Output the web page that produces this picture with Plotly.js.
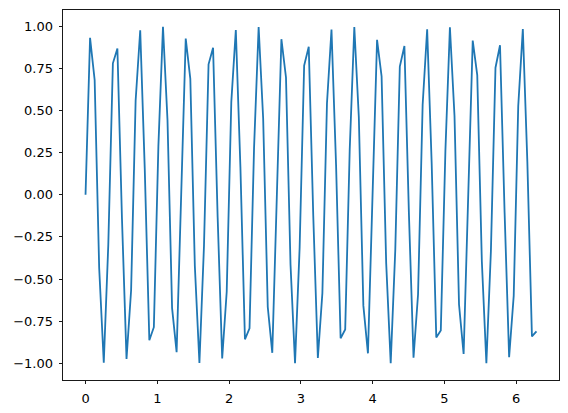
<!DOCTYPE html>
<html>
<head>
<meta charset="utf-8">
<script src="https://cdn.plot.ly/plotly-3.0.1.min.js"></script>
<style>html,body{margin:0;padding:0;background:#fff;}#chart{width:568px;height:413px;}</style>
</head>
<body>
<div id="chart"></div>
<script>
const xValues = [0,0.063,0.127,0.190,0.254,0.317,0.381,0.444,0.508,0.571,
0.635,0.698,0.762,0.825,0.889,0.952,1.015,1.079,1.142,1.206,
1.269,1.333,1.396,1.460,1.523,1.587,1.650,1.714,1.777,1.841,
1.904,1.967,2.031,2.094,2.158,2.221,2.285,2.348,2.412,2.475,
2.539,2.602,2.666,2.729,2.793,2.856,2.919,2.983,3.046,3.110,
3.173,3.237,3.300,3.364,3.427,3.491,3.554,3.618,3.681,3.745,
3.808,3.871,3.935,3.998,4.062,4.125,4.189,4.252,4.316,4.379,
4.443,4.506,4.570,4.633,4.697,4.760,4.823,4.887,4.950,5.014,
5.077,5.141,5.204,5.268,5.331,5.395,5.458,5.522,5.585,5.648,
5.712,5.775,5.839,5.902,5.966,6.029,6.093,6.156,6.220,6.283];
const yValues = [0,0.931,0.681,-0.433,-0.997,-0.297,0.780,0.868,-0.145,-0.974,
-0.567,0.559,0.976,0.155,-0.863,-0.786,0.287,0.997,0.442,-0.673,
-0.934,-0.010,0.927,0.688,-0.423,-0.998,-0.307,0.774,0.873,-0.135,
-0.972,-0.576,0.550,0.978,0.165,-0.858,-0.793,0.278,0.996,0.451,
-0.666,-0.938,-0.020,0.923,0.696,-0.414,-0.999,-0.316,0.767,0.878,
-0.125,-0.969,-0.584,0.542,0.980,0.175,-0.852,-0.799,0.268,0.995,
0.460,-0.658,-0.941,-0.031,0.919,0.703,-0.405,-0.999,-0.326,0.761,
0.883,-0.115,-0.967,-0.592,0.533,0.982,0.185,-0.847,-0.805,0.258,
0.994,0.469,-0.651,-0.945,-0.041,0.915,0.710,-0.396,-1.000,-0.336,
0.754,0.887,-0.105,-0.964,-0.600,0.525,0.984,0.195,-0.841,-0.811];
const xTicks = [0,1,2,3,4,5,6];
const yTicks = [-1.00,-0.75,-0.50,-0.25,0.00,0.25,0.50,0.75,1.00];

const axisCommon = {
  showline: true, mirror: true, linecolor: '#000', linewidth: 0.9,
  showgrid: false, zeroline: false,
  ticks: 'outside', ticklen: 3.5, tickwidth: 0.9, tickcolor: '#000',
  ticklabelstandoff: 3,
  tickfont: {family: 'DejaVu Sans', size: 13, color: '#000'}
};

Plotly.newPlot('chart', [{
  x: xValues, y: yValues, type: 'scatter', mode: 'lines',
  line: {color: '#1f77b4', width: 1.8}
}], {
  width: 568, height: 413,
  margin: {l: 63, r: 9, t: 10, b: 33},
  paper_bgcolor: '#fff', plot_bgcolor: '#fff',
  showlegend: false,
  xaxis: Object.assign({}, axisCommon, {range: [-0.314, 6.597], tickvals: xTicks, ticktext: xTicks.map(String)}),
  yaxis: Object.assign({}, axisCommon, {range: [-1.0993, 1.0964], tickvals: yTicks, ticktext: yTicks.map(v => (v < 0 ? '\u2212' : '') + Math.abs(v).toFixed(2))})
}, {displayModeBar: false, staticPlot: true});
</script>
</body>
</html>
